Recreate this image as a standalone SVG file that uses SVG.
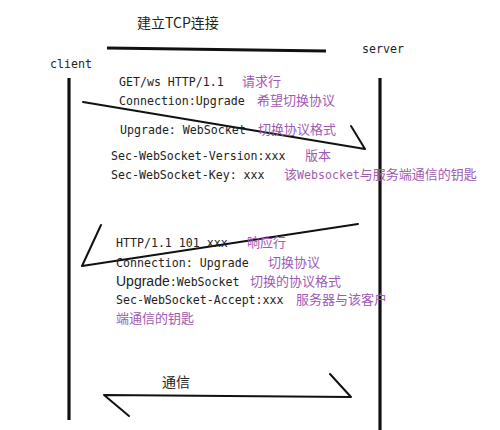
<svg xmlns="http://www.w3.org/2000/svg" width="500" height="430" viewBox="0 0 500 430">
<style>
.m{font-family:"DejaVu Sans Mono","Liberation Mono",monospace;font-size:11.6px;fill:#222}
.c{font-family:"Noto Sans CJK SC",sans-serif;font-size:13px;fill:#a05ab4}
.t{font-family:"Noto Sans CJK SC",sans-serif;font-size:14px;fill:#222}
.s{font-family:"Liberation Sans",sans-serif;font-size:14px;fill:#222}
.life{stroke:#111;stroke-width:3.2;fill:none}
.arr{stroke:#111;stroke-width:2;fill:none;stroke-linecap:round;stroke-linejoin:round}
</style>
<rect width="500" height="430" fill="#fff"/>
<g id="title">
<text class="t" x="137" y="28">建立TCP连接</text>
<path d="M107,48 L326,51" stroke="#111" stroke-width="3.2" fill="none"/>
</g>
<g id="client">
<text class="m" x="50" y="68">client</text>
<path class="life" d="M69,78 L69,420"/>
</g>
<g id="server">
<text class="m" x="362" y="53">server</text>
<path class="life" d="M380,78 L380,430"/>
</g>
<g id="connectors">
<path class="arr" d="M83,102 L365,149 L351,126"/>
<path class="arr" d="M358,224 L82,266 L101,225"/>
<path class="arr" d="M129,416 L104,395 L351,397 L330,374"/>
</g>
<g id="request">
<text class="m" x="119" y="86">GET/ws HTTP/1.1</text>
<text class="c" x="242" y="86">请求行</text>
<text class="m" x="119" y="105">Connection:Upgrade</text>
<text class="c" x="257" y="105">希望切换协议</text>
<text class="m" x="120" y="134">Upgrade: WebSocket</text>
<text class="c" x="258" y="134">切换协议格式</text>
<text class="m" x="111" y="160">Sec-WebSocket-Version:xxx</text>
<text class="c" x="305" y="160">版本</text>
<text class="m" x="111" y="179">Sec-WebSocket-Key: xxx</text>
<text class="c" x="284" y="179">该<tspan class="m" style="fill:#a05ab4">Websocket</tspan>与服务端通信的钥匙</text>
</g>
<g id="response">
<text class="m" x="116" y="247">HTTP/1.1 101 xxx</text>
<text class="c" x="247" y="247">响应行</text>
<text class="m" x="116" y="267">Connection: Upgrade</text>
<text class="c" x="268" y="267">切换协议</text>
<text x="116" y="286"><tspan class="s">Upgrade</tspan><tspan class="m">:WebSocket</tspan></text>
<text class="c" x="250" y="286">切换的协议格式</text>
<text class="m" x="116" y="304">Sec-WebSocket-Accept:xxx</text>
<text class="c" x="296" y="304">服务器与该客户</text>
<text class="c" x="116" y="323">端通信的钥匙</text>
</g>
<g id="communication">
<text class="t" x="162" y="387">通信</text>
</g>
</svg>
